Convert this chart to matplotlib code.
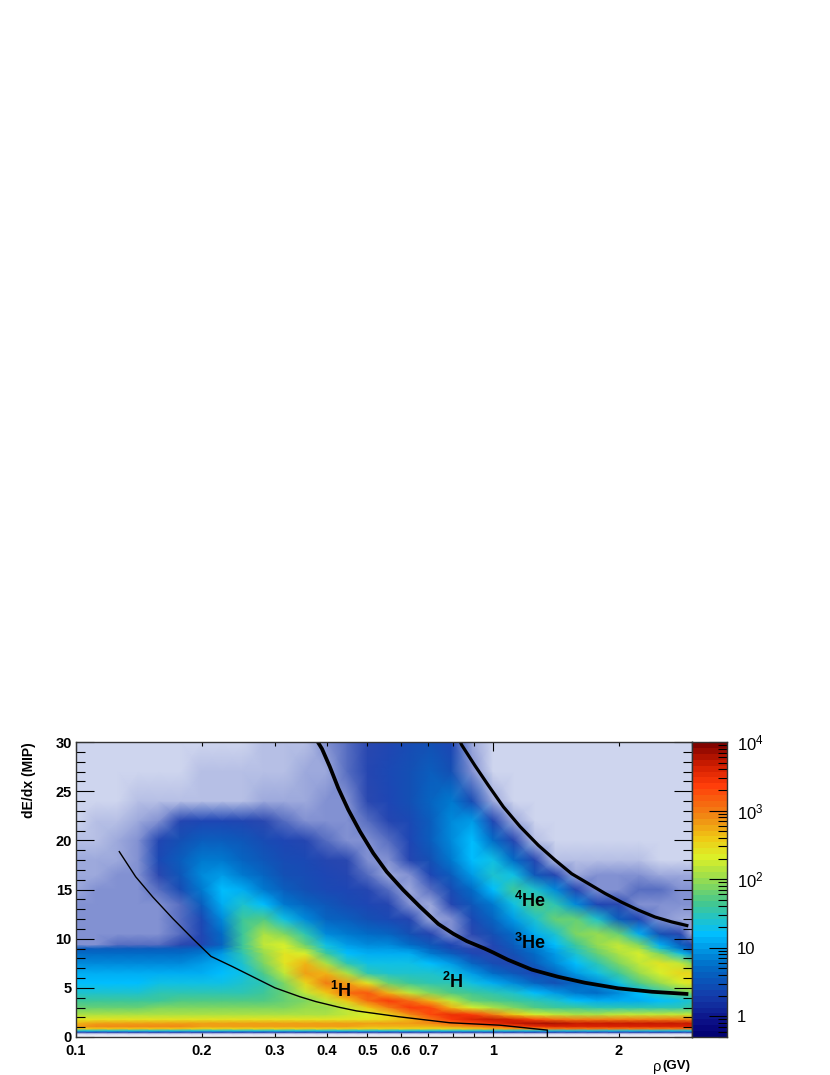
"""
dE/dx versus rigidity plot with the hydrogen and helium bands.

The map is stored as a table of log10(counts) * 10 read by eye from the picture,
values below -3 stand for regions where only some of the bins are filled.
"""

import numpy as np
import matplotlib
matplotlib.use('Agg')
import matplotlib.pyplot as plt
from matplotlib.colors import LinearSegmentedColormap, LogNorm

plt.rcParams['font.family'] = ['Liberation Sans', 'DejaVu Sans']
plt.rcParams['mathtext.fontset'] = 'custom'
plt.rcParams['mathtext.rm'] = 'Liberation Sans'
plt.rcParams['mathtext.bf'] = 'Liberation Sans:bold'

rigidity = [0.1, 0.112, 0.126, 0.141, 0.158, 0.178, 0.2, 0.224, 0.251, 0.282, 0.316,
            0.355, 0.398, 0.447, 0.501, 0.562, 0.631, 0.708, 0.794, 0.891, 1.0,
            1.12, 1.26, 1.41, 1.58, 1.78, 2.0, 2.24, 2.51, 2.82, 3.0]

dedx = [30, 27, 24, 22, 20, 18, 16.5, 15, 13.5, 12, 10.5, 9.4, 9, 8.5, 7.5, 6.5, 5.5,
        4.5, 3.7, 3, 2.3, 1.8, 1.4, 1.1, 0.85, 0.65, 0.5, 0.35, 0]

# one row per dedx value, same order, tenths of a decade
log_counts = [
    [-8, -8, -8, -8, -8, -8, -8, -8, -8, -7, -7, -7, -5, -4, -3, -1, 2, 3, 0, -6, -8, -8, -8, -8, -8, -8, -8, -8, -8, -8, -8],
    [-8, -8, -8, -8, -8, -8, -7, -7, -7, -7, -7, -6, -6, -4, -2, 1, 3, 5, 3, -5, -8, -8, -8, -8, -8, -8, -8, -8, -8, -8, -8],
    [-8, -8, -8, -7, -7, -7, -7, -7, -7, -6, -6, -6, -5, -5, -3, 0, 3, 6, 8, 2, -6, -8, -8, -8, -8, -8, -8, -8, -8, -8, -8],
    [-8, -7, -7, -6, -5, -2, 0, 0, -1, -3, -4, -5, -5, -5, -4, -2, 1, 5, 9, 10, -1, -6, -8, -8, -8, -8, -8, -8, -8, -8, -8],
    [-7, -7, -6, -5, -1, 3, 5, 5, 4, 2, 0, -2, -4, -5, -5, -4, 0, 5, 9, 12, 7, -2, -7, -8, -8, -8, -8, -8, -8, -8, -8],
    [-6, -6, -6, -5, 1, 5, 8, 8, 6, 4, 2, 1, -2, -3, -5, -5, -2, 3, 8, 12, 13, 7, -2, -7, -7, -7, -7, -7, -8, -8, -8],
    [-6, -6, -5, -5, -3, 4, 9, 10, 8, 6, 3, 2, 0, -2, -4, -6, -5, 0, 5, 10, 14, 13, 4, -2, -6, -5, -5, -5, -6, -6, -6],
    [-6, -5, -5, -5, -4, 2, 8, 12, 11, 8, 5, 3, 1, 0, -2, -4, -6, -4, 2, 7, 12, 16, 14, 9, -2, -5, -5, -4, -4, -5, -5],
    [-5, -5, -5, -5, -5, -4, 5, 11, 14, 12, 8, 6, 4, 2, 0, -2, -5, -6, -2, 4, 8, 13, 17, 15, 9, 0, -3, -5, -5, -5, -5],
    [-5, -5, -5, -5, -5, -4, 1, 9, 16, 17, 13, 9, 6, 5, 3, 1, -2, -6, -5, 1, 6, 10, 14, 18, 18, 14, 5, -1, -5, -6, -6],
    [-5, -5, -5, -5, -5, -4, -1, 7, 16, 21, 19, 15, 9, 8, 7, 6, 3, -2, -5, -3, 3, 7, 11, 14, 19, 20, 18, 11, 3, -3, -6],
    [-5, -5, -4, -4, -4, -3, -1, 6, 16, 22, 23, 18, 13, 10, 9, 9, 7, 4, 0, -4, -1, 5, 9, 12, 16, 20, 22, 19, 11, 5, 1],
    [5, 5, 5, 5, 5, 5, 6, 8, 16, 21, 23, 20, 14, 11, 10, 10, 9, 6, 2, -3, -2, 4, 8, 11, 15, 19, 22, 21, 14, 8, 4],
    [7, 7, 7, 7, 7, 7, 8, 10, 15, 20, 24, 23, 16, 12, 11, 11, 11, 8, 5, 0, -3, 3, 7, 10, 14, 18, 21, 23, 19, 13, 9],
    [9, 9, 9, 9, 9, 9, 10, 11, 14, 19, 24, 27, 21, 15, 13, 13, 13, 12, 10, 6, 2, -2, 5, 9, 12, 15, 19, 22, 24, 22, 19],
    [11, 11, 11, 11, 11, 11, 11, 12, 13, 17, 22, 28, 27, 21, 15, 14, 14, 14, 13, 10, 7, 4, 0, 6, 10, 13, 16, 20, 23, 25, 25],
    [12, 12, 12, 12, 13, 13, 13, 13, 14, 15, 19, 25, 30, 28, 24, 18, 16, 15, 15, 13, 11, 9, 6, 3, 6, 9, 13, 17, 20, 23, 24],
    [14, 14, 14, 14, 15, 15, 15, 15, 15, 16, 18, 22, 26, 31, 32, 27, 22, 19, 17, 16, 15, 14, 12, 10, 8, 7, 9, 12, 15, 18, 19],
    [16, 16, 16, 16, 16, 17, 17, 17, 17, 17, 18, 19, 22, 26, 31, 34, 31, 27, 22, 18, 17, 16, 15, 14, 12, 11, 11, 11, 12, 13, 14],
    [18, 18, 18, 18, 19, 19, 19, 19, 19, 19, 19, 20, 20, 22, 26, 30, 34, 33, 27, 23, 21, 19, 17, 16, 16, 15, 15, 15, 15, 15, 16],
    [21, 21, 21, 21, 21, 21, 21, 21, 21, 21, 21, 21, 21, 22, 23, 25, 29, 33, 35, 34, 30, 26, 23, 22, 21, 21, 22, 22, 22, 22, 22],
    [24, 24, 24, 24, 24, 24, 24, 24, 24, 24, 24, 24, 24, 24, 24, 25, 27, 30, 34, 36, 37, 36, 33, 31, 30, 30, 30, 30, 30, 30, 30],
    [27, 28, 28, 28, 28, 28, 28, 28, 28, 28, 28, 28, 28, 28, 28, 28, 28, 29, 31, 33, 35, 37, 38, 38, 37, 37, 37, 37, 37, 37, 37],
    [28, 29, 29, 29, 29, 29, 28, 28, 28, 28, 28, 28, 28, 28, 27, 27, 27, 27, 28, 29, 31, 33, 35, 36, 36, 36, 36, 36, 36, 36, 36],
    [25, 26, 26, 26, 26, 26, 25, 25, 25, 25, 25, 25, 25, 25, 25, 25, 25, 25, 25, 26, 27, 28, 29, 30, 30, 30, 30, 30, 30, 30, 30],
    [13, 13, 13, 13, 13, 13, 13, 13, 13, 13, 13, 13, 13, 13, 13, 13, 13, 13, 13, 13, 13, 13, 13, 13, 13, 13, 13, 13, 13, 13, 13],
    [-3, -3, -3, -3, -3, -3, -3, -3, -3, -3, -3, -3, -3, -3, -3, -3, -3, -3, -3, -3, -3, -3, -3, -3, -3, -3, -3, -3, -3, -3, -3],
    [-8, -8, -8, -8, -8, -8, -8, -8, -8, -8, -8, -8, -8, -8, -8, -8, -8, -8, -8, -8, -8, -8, -8, -8, -8, -8, -8, -8, -8, -8, -8],
    [-10, -10, -10, -10, -10, -10, -10, -10, -10, -10, -10, -10, -10, -10, -10, -10, -10, -10, -10, -10, -10, -10, -10, -10, -10, -10, -10, -10, -10, -10, -10],
]

# selection curves
thin_x = [0.127, 0.139, 0.1527, 0.1706, 0.1905, 0.2107, 0.2375, 0.27, 0.30, 0.344, 0.376, 0.43, 0.471, 0.597, 0.787, 1.04, 1.35, 1.35]
thin_y = [18.85, 16.3, 14.25, 12.05, 10.0, 8.2, 7.15, 5.97, 5.0, 4.1, 3.6, 3.0, 2.65, 2.05, 1.45, 1.2, 0.7, 0]
lower_x = [0.38, 0.389, 0.406, 0.4256, 0.4498, 0.4797, 0.516, 0.556, 0.609, 0.668, 0.739, 0.803, 0.865,
           0.954, 1.0, 1.086, 1.239, 1.43, 1.66, 1.995, 2.405, 2.94]
lower_y = [30, 29.3, 27.5, 25.3, 23.1, 20.9, 18.7, 16.8, 14.95, 13.25, 11.5, 10.5, 9.75,
           9.0, 8.6, 7.85, 6.85, 6.13, 5.52, 4.95, 4.6, 4.37]
upper_x = [0.835, 0.841, 0.905, 0.974, 1.059, 1.161, 1.284, 1.408, 1.544, 1.693, 1.856, 2.036, 2.232, 2.446, 2.684, 2.94]
upper_y = [30, 29.7, 27.6, 25.6, 23.4, 21.4, 19.5, 18.0, 16.6, 15.6, 14.6, 13.7, 12.9, 12.2, 11.7, 11.3]

x_major = [0.1, 1]
x_minor = [0.2, 0.3, 0.4, 0.5, 0.6, 0.7, 0.8, 0.9, 2, 3]
x_minor_labels = ['0.2', '0.3', '0.4', '0.5', '0.6', '0.7', '', '', '2', '']

band_labels = [(0.432, 4.7, '1', 'H'), (0.80, 5.6, '2', 'H'), (1.23, 13.8, '4', 'He'), (1.23, 9.6, '3', 'He')]

# log10(counts) -> colour; the part under 0.5 counts fades to white
palette_nodes = [
    (-1.0, '#ffffff'), (-0.8, '#cdd4ee'), (-0.5, '#8291d2'), (-0.3, '#2846af'),
    (0.0, '#1e46b4'), (0.3, '#1450b4'), (0.74, '#006ec8'), (1.2, '#00beff'),
    (1.66, '#46c88c'), (2.0, '#96dc50'), (2.32, '#dcf028'), (2.6, '#f0c814'),
    (2.9, '#f08c14'), (3.37, '#ff3c0a'), (3.66, '#d21e00'), (4.0, '#780000'),
]
bar_nodes = [
    (-0.301, '#00006e'), (-0.13, '#0a0a82'), (0.3, '#143caa'), (0.74, '#006ec8'),
    (1.2, '#00beff'), (1.66, '#46c88c'), (2.0, '#96dc50'), (2.32, '#dcf028'),
    (2.6, '#f0c814'), (2.9, '#f08c14'), (3.37, '#ff3c0a'), (3.66, '#d21e00'), (4.0, '#780000'),
]


def make_cmap(nodes, name):
    low, high = nodes[0][0], nodes[-1][0]
    return LinearSegmentedColormap.from_list(
        name, [((v - low) / (high - low), c) for v, c in nodes], N=512)


def draw_map(ax):
    counts = 10.0 ** (np.array(log_counts[::-1], dtype=float) / 10.0)
    ax.pcolormesh(rigidity, dedx[::-1], counts, shading='gouraud',
                  cmap=make_cmap(palette_nodes, 'map'), norm=LogNorm(vmin=0.1, vmax=1e4))
    ax.plot(thin_x, thin_y, color='black', lw=1.0)
    ax.plot(lower_x, lower_y, color='black', lw=2.7, solid_capstyle='butt')
    ax.plot(upper_x, upper_y, color='black', lw=2.3, solid_capstyle='butt')

    ax.set_xscale('log')
    ax.set_xlim(0.1, 3.0)
    ax.set_ylim(0, 30)
    ax.set_xticks(x_major, labels=['0.1', '1'])
    ax.set_xticks(x_minor, labels=x_minor_labels, minor=True)
    ax.set_yticks(range(0, 31, 5))
    ax.set_yticks(range(0, 31), minor=True)

    ax.tick_params(axis='x', which='major', direction='in', length=6.5, width=0.8, top=True, pad=5, labelsize=10.5)
    ax.tick_params(axis='x', which='minor', direction='in', length=3.2, width=0.8, top=True, pad=5, labelsize=10.5)
    ax.tick_params(axis='y', which='major', direction='in', length=13, width=0.8, right=True, pad=3, labelsize=10.5)
    ax.tick_params(axis='y', which='minor', direction='in', length=6.5, width=0.8, right=True)
    for label in ax.get_xticklabels(which='both') + ax.get_yticklabels():
        label.set_fontweight('bold')
    for spine in ax.spines.values():
        spine.set_linewidth(1.0)
        spine.set_color('#333333')

    for x, y, iso, name in band_labels:
        ax.text(x, y, r'$\mathbf{^{%s}%s}$' % (iso, name), fontsize=13, ha='center', va='center')


def draw_palette(cax):
    cmap = make_cmap(bar_nodes, 'bar')
    edges = np.geomspace(0.5, 1e4, 51)
    levels = np.sqrt(edges[:-1] * edges[1:]).reshape(-1, 1)
    cax.pcolormesh([0, 1], edges, levels, cmap=cmap, norm=LogNorm(vmin=0.5, vmax=1e4))
    cax.set_yscale('log')
    cax.set_ylim(0.5, 1e4)
    cax.set_xticks([])
    cax.yaxis.tick_right()
    cax.set_yticks([1, 10, 100, 1000, 10000],
                   labels=['1', '10', r'$\mathrm{10^{2}}$', r'$\mathrm{10^{3}}$', r'$\mathrm{10^{4}}$'])
    minors = [m * 10.0 ** e for e in range(-1, 4) for m in range(2, 10) if 0.5 <= m * 10.0 ** e <= 1e4]
    cax.set_yticks(minors, minor=True)
    cax.set_yticklabels([], minor=True)
    cax.tick_params(axis='y', which='major', direction='in', length=13, width=0.8, pad=7, labelsize=12)
    cax.tick_params(axis='y', which='minor', direction='in', length=6.5, width=0.8)
    for spine in cax.spines.values():
        spine.set_linewidth(1.0)
        spine.set_color('#333333')


if __name__ == '__main__':
    W, H = 830, 1075
    fig = plt.figure(figsize=(W / 100, H / 100), dpi=100)
    ax = fig.add_axes([76 / W, 38 / H, 616 / W, 295 / H])
    cax = fig.add_axes([692 / W, 38 / H, 35 / W, 295 / H])

    draw_map(ax)
    draw_palette(cax)

    fig.text(29 / W, 1 - 742 / H, 'dE/dx (MIP)', rotation=90, ha='center', va='top',
             fontsize=10, fontweight='bold')
    fig.text(690 / W, 1 - 1066 / H, '(GV)', ha='right', va='center', fontsize=9.5, fontweight='bold')
    fig.text(661 / W, 1 - 1067 / H, 'ρ', ha='right', va='center', fontsize=10.5)

    fig.savefig('out.png', dpi=100)
